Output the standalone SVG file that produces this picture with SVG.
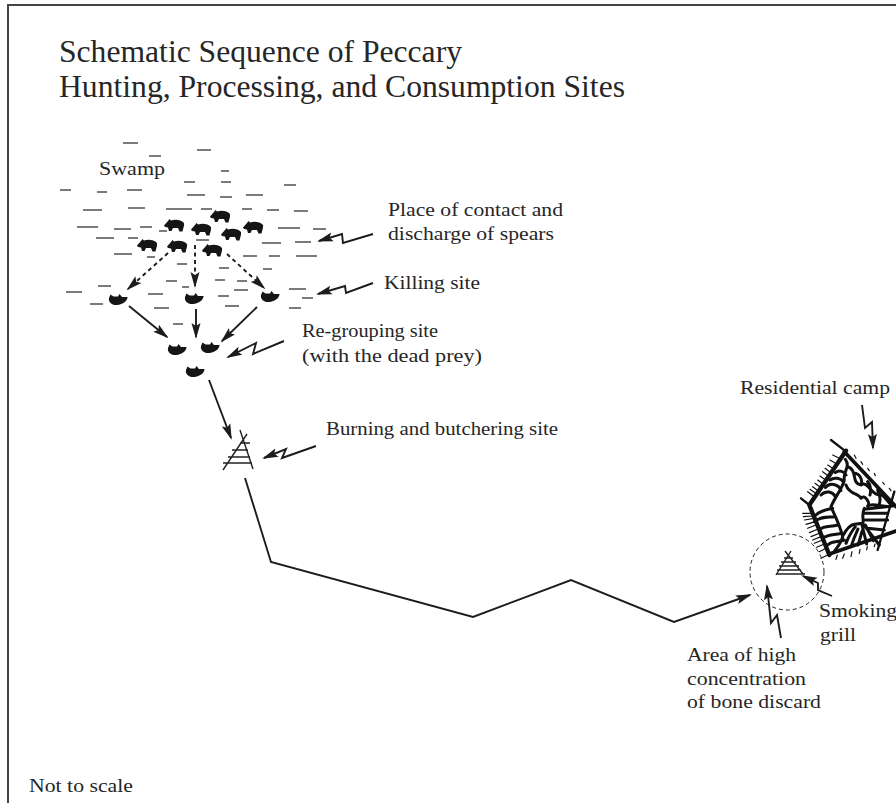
<svg xmlns="http://www.w3.org/2000/svg" width="896" height="803" viewBox="0 0 896 803">
<style>
text{font-family:"Liberation Serif","Times New Roman",serif;fill:#262626;font-size:19.5px}
.title{font-size:31px}
.dash line{stroke:#333;stroke-width:1.3}
.con{fill:none;stroke:#1c1c1c;stroke-width:1.9}
.dot{stroke-dasharray:4 3.5}
.thin{fill:none;stroke:#222;stroke-width:1.4}
.wall{fill:none;stroke:#111;stroke-linecap:round;stroke-linejoin:round}
</style>
<defs>
<marker id="head" markerUnits="userSpaceOnUse" markerWidth="16" markerHeight="10" refX="14" refY="4.5" orient="auto" viewBox="0 0 16 9"><path d="M0,0L16,4.5L0,9L3,4.5Z" fill="#1c1c1c"/></marker>
<path id="pig" d="M-10,0.5L-6,-4L-4.5,-6L-3,-4.5C1,-6 7,-5.5 10,-2C10.5,1 9,3.5 8.5,6.5L5.5,6.5L4,3L-1,3L-2.5,6L-5,6L-6,2.5L-9,2Z" fill="#151515"/>
<path id="prey" d="M-9,-2L-7.5,-5.5L-4.5,-3.5L0,-3.5L1.5,-6L4,-3L9.5,-3C9.5,1 5,4.5 -1,5C-6,5.5 -10,2 -9,-2Z" fill="#151515"/>
</defs>
<path id="frame" d="M8,803V5H896" fill="none" stroke="#444" stroke-width="2"/>
<g id="heading">
<text class="title" x="59" y="62" textLength="403" lengthAdjust="spacingAndGlyphs">Schematic Sequence of Peccary</text>
<text class="title" x="59" y="97" textLength="566" lengthAdjust="spacingAndGlyphs">Hunting, Processing, and Consumption Sites</text>
</g>
<g id="swamp">
<text x="99" y="175" textLength="66" lengthAdjust="spacingAndGlyphs">Swamp</text>
<g class="dash">
<line x1="123" y1="143" x2="138" y2="143"/><line x1="149" y1="156" x2="161" y2="156"/><line x1="197" y1="150" x2="211" y2="150"/><line x1="221" y1="171" x2="229" y2="171"/><line x1="184" y1="182" x2="195" y2="182"/><line x1="221" y1="182" x2="231" y2="182"/><line x1="284" y1="185" x2="296" y2="185"/><line x1="60" y1="190" x2="71" y2="190"/><line x1="97" y1="192" x2="107" y2="192"/><line x1="127" y1="190" x2="142" y2="190"/><line x1="187" y1="195" x2="205" y2="195"/><line x1="220" y1="197" x2="232" y2="197"/><line x1="246" y1="195" x2="263" y2="195"/><line x1="83" y1="210" x2="102" y2="210"/><line x1="128" y1="208" x2="145" y2="208"/><line x1="166" y1="209" x2="192" y2="209"/><line x1="201" y1="209" x2="212" y2="209"/><line x1="242" y1="209" x2="252" y2="209"/><line x1="267" y1="210" x2="279" y2="210"/><line x1="294" y1="211" x2="308" y2="211"/><line x1="77" y1="227" x2="98" y2="227"/><line x1="114" y1="229" x2="131" y2="229"/><line x1="140" y1="227" x2="152" y2="227"/><line x1="159" y1="231" x2="167" y2="231"/><line x1="278" y1="228" x2="300" y2="228"/><line x1="313" y1="229" x2="326" y2="229"/><line x1="96" y1="238" x2="114" y2="238"/><line x1="128" y1="238" x2="138" y2="238"/><line x1="196" y1="240" x2="209" y2="240"/><line x1="262" y1="243" x2="281" y2="243"/><line x1="295" y1="242" x2="311" y2="242"/><line x1="114" y1="254" x2="132" y2="254"/><line x1="147" y1="257" x2="155" y2="257"/><line x1="243" y1="256" x2="257" y2="256"/><line x1="269" y1="256" x2="280" y2="256"/><line x1="296" y1="256" x2="317" y2="256"/><line x1="177" y1="264" x2="187" y2="264"/><line x1="219" y1="268" x2="229" y2="268"/><line x1="263" y1="269" x2="272" y2="269"/><line x1="166" y1="281" x2="177" y2="281"/><line x1="98" y1="286" x2="111" y2="286"/><line x1="182" y1="287" x2="189" y2="287"/><line x1="215" y1="280" x2="225" y2="280"/><line x1="237" y1="281" x2="247" y2="281"/><line x1="234" y1="290" x2="248" y2="290"/><line x1="289" y1="289" x2="306" y2="289"/><line x1="66" y1="292" x2="82" y2="292"/><line x1="148" y1="294" x2="163" y2="294"/><line x1="218" y1="296" x2="229" y2="296"/><line x1="302" y1="298" x2="313" y2="298"/><line x1="90" y1="304" x2="103" y2="304"/><line x1="154" y1="308" x2="169" y2="308"/><line x1="225" y1="306" x2="239" y2="306"/><line x1="289" y1="308" x2="301" y2="308"/><line x1="173" y1="324" x2="183" y2="324"/>
</g>
</g>
<g id="herd">
<use href="#pig" x="220" y="216"/><use href="#pig" x="174" y="225"/><use href="#pig" x="201" y="229"/><use href="#pig" x="231" y="234"/><use href="#pig" x="253" y="227"/><use href="#pig" x="147" y="245"/><use href="#pig" x="177" y="246"/><use href="#pig" x="212" y="250"/>
</g>
<g id="killed-prey">
<use href="#prey" x="118" y="300"/><use href="#prey" x="194" y="299"/><use href="#prey" x="270" y="297"/>
</g>
<g id="regrouped-prey">
<use href="#prey" x="177" y="350"/><use href="#prey" x="210" y="348"/><use href="#prey" x="195" y="372"/>
</g>
<g id="butchering-grill">
<path class="thin" d="M240,430L253,469M247,434L223,470M240,443H250M232,450H248M228,457H250M223,463H252"/>
</g>
<g id="smoking-grill">
<path class="thin" d="M785,551L803,574M791,551L776,575M784,558H793M781,562H796M779,566H799M777,570H801M776,574H805"/>
</g>
<g id="bone-area">
<ellipse cx="787" cy="572" rx="37" ry="38" fill="none" stroke="#222" stroke-width="1" stroke-dasharray="4 3"/>
</g>
<g id="camp" transform="translate(796 430) scale(.3333)">
<path class="wall" stroke-width="3.5" d="M110,75L130,85M102,90L122,102M95,105L115,118M87,115L107,130M80,125L100,140M72,138L92,152M65,150L85,165M57,160L77,175M50,170L70,185M42,178L62,192M35,185L55,200M20,250L50,250M22,260L52,258M25,270L55,265M30,283L58,275M35,295L60,285M40,308L65,298M45,320L70,310M50,330L75,320M55,340L80,330M62,352L85,342M70,365L90,355M75,385L95,375M120,388L124,375M140,385L145,372M165,380L168,365M190,370L192,358M212,360L214,350M235,350L237,342M175,75L180,85M195,95L200,103M215,115L220,122M235,130L238,137M260,157L265,163M280,175L285,182"/>
<path class="wall" stroke-width="7" d="M105,30L150,65M15,205L40,225M295,185L245,360"/>
<path class="wall" stroke-width="13" d="M150,62L40,225L100,375"/>
<path class="wall" stroke-width="11" d="M145,65L300,230M100,372L300,303"/>
<path class="wall" stroke-width="9" d="M148,88C165,110 140,125 145,150C140,175 120,195 105,230C115,255 130,280 140,320C135,340 125,350 115,365M118,128C130,118 145,125 150,135M102,150C115,140 135,145 142,155M88,172C105,155 130,165 135,182M75,195C90,180 110,185 118,200M60,255C75,240 95,238 110,235M55,275C75,258 95,262 115,260M70,300C85,285 105,292 125,285M80,325C100,310 115,316 135,310M95,345C110,330 125,338 145,330M160,112C185,125 165,160 195,165C215,150 225,195 250,195C265,190 270,215 290,228M150,165C160,195 190,190 195,205C205,190 225,220 215,228C235,215 250,235 290,228M180,130C195,135 200,155 195,165M215,155C225,165 225,185 222,195M245,180C250,190 255,210 250,222M205,235C195,255 205,270 200,280M205,238L290,228M205,250L275,250M208,270L275,270M215,295L265,300M140,318C150,300 160,285 175,283L200,280L250,345M150,340C160,315 170,300 178,290M165,350C175,320 180,310 186,297M186,345C195,320 195,310 200,300M212,342L198,285M232,332L208,285"/>
</g>
<g id="connectors">
<path class="con dot" marker-end="url(#head)" d="M168,253L128,289"/>
<path class="con dot" marker-end="url(#head)" d="M195,245V286"/>
<path class="con dot" marker-end="url(#head)" d="M227,254L264,288"/>
<path class="con" marker-end="url(#head)" d="M129,306L167,337"/>
<path class="con" marker-end="url(#head)" d="M196,309V337"/>
<path class="con" marker-end="url(#head)" d="M257,307L222,341"/>
<path class="con" marker-end="url(#head)" d="M209,380L231,438"/>
<path class="con" marker-end="url(#head)" d="M245,478L271,562L473,617L571,580L674,622L750,595"/>
<path class="con" marker-end="url(#head)" d="M373,234L343,243L342,234L319,241"/>
<path class="con" marker-end="url(#head)" d="M373,283L346,293L345,286L318,294"/>
<path class="con" marker-end="url(#head)" d="M284,341L253,354L256,343L228,357"/>
<path class="con" marker-end="url(#head)" d="M316,446L282,458L286,449L264,458"/>
<path class="con" marker-end="url(#head)" d="M862,405L865,428L872,422L873,448"/>
<path class="con" marker-end="url(#head)" d="M832,596L818,590L818,583L803,576"/>
<path class="con" marker-end="url(#head)" d="M781,638L777,615L771,623L767,586"/>
</g>
<g id="labels">
<text x="388" y="216" textLength="175" lengthAdjust="spacingAndGlyphs">Place of contact and</text>
<text x="388" y="240" textLength="166" lengthAdjust="spacingAndGlyphs">discharge of spears</text>
<text x="384" y="289" textLength="96" lengthAdjust="spacingAndGlyphs">Killing site</text>
<text x="302" y="337" textLength="136" lengthAdjust="spacingAndGlyphs">Re-grouping site</text>
<text x="302" y="362" textLength="180" lengthAdjust="spacingAndGlyphs">(with the dead prey)</text>
<text x="326" y="435" textLength="232" lengthAdjust="spacingAndGlyphs">Burning and butchering site</text>
<text x="740" y="394" textLength="150" lengthAdjust="spacingAndGlyphs">Residential camp</text>
<text x="819" y="617" textLength="78" lengthAdjust="spacingAndGlyphs">Smoking</text>
<text x="820" y="641" textLength="36" lengthAdjust="spacingAndGlyphs">grill</text>
<text x="687" y="661" textLength="109" lengthAdjust="spacingAndGlyphs">Area of high</text>
<text x="687" y="685" textLength="119" lengthAdjust="spacingAndGlyphs">concentration</text>
<text x="687" y="708" textLength="134" lengthAdjust="spacingAndGlyphs">of bone discard</text>
<text x="29" y="792" textLength="104" lengthAdjust="spacingAndGlyphs">Not to scale</text>
</g>
</svg>
